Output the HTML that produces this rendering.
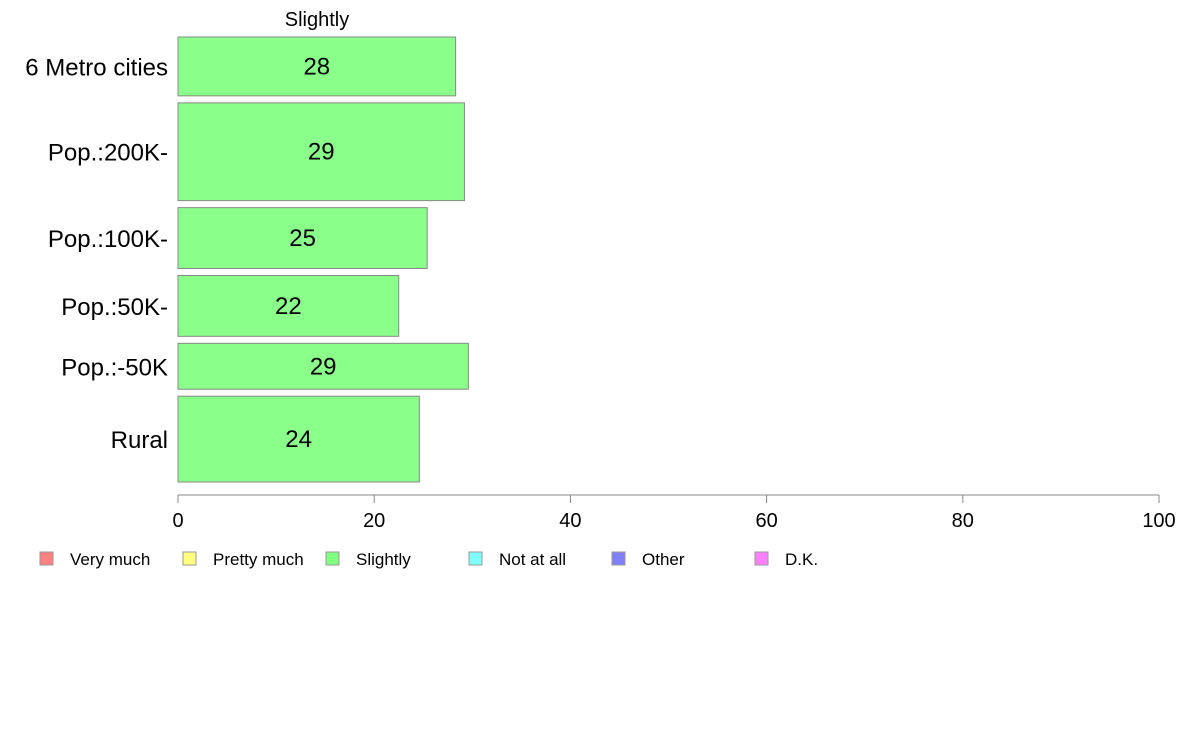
<!DOCTYPE html>
<html><head><meta charset="utf-8"><style>
body{margin:0;background:#fff;font-family:"Liberation Sans",sans-serif;}
svg{display:block}
</style></head><body>
<svg id="chart" width="1188" height="736" font-family="Liberation Sans, sans-serif"></svg>
<script>
const categories=["6 Metro cities","Pop.:200K-","Pop.:100K-","Pop.:50K-","Pop.:-50K","Rural"];
const values=[28.3,29.2,25.4,22.5,29.6,24.6];
const labels=["28","29","25","22","29","24"];
const weights=[59,98,61,61,46,86];
const ticks=[0,20,40,60,80,100];
const legendNames=["Very much","Pretty much","Slightly","Not at all","Other","D.K."];
const legendColors=["#ff8080","#ffff80","#80ff80","#80ffff","#8080ff","#ff80ff"];
const NS="http://www.w3.org/2000/svg";
const svgEl=document.getElementById('chart');
function mk(t,a,p){const e=document.createElementNS(NS,t);for(const k in a)e.setAttribute(k,a[k]);(p||svgEl).appendChild(e);return e;}
const x0=178,x1=1159,yTop=37,yBottom=482,gap=7;
const xs=v=>x0+(x1-x0)*v/100;
const totalW=weights.reduce((a,b)=>a+b,0);
const avail=yBottom-yTop-gap*(categories.length-1);
const t=mk('text',{x:317,y:26,'text-anchor':'middle','font-size':20});t.textContent="Slightly";


let yy=yTop;
categories.forEach((c,i)=>{
  const h=avail*weights[i]/totalW;
  const r=mk('rect',{x:x0,y:yy,width:xs(values[i])-x0,height:h,fill:'#8aff8a',stroke:'#888','stroke-width':1});
  
  
  const v=mk('text',{x:(x0+xs(values[i]))/2,y:yy+h/2+8,'text-anchor':'middle','font-size':24});v.textContent=labels[i];
  
  
  const l=mk('text',{x:168,y:yy+h/2+9,'text-anchor':'end','font-size':24});l.textContent=c;
  
  
  yy+=h+gap;
});
const ax=mk('line',{x1:x0,x2:x1,y1:495,y2:495,stroke:'#888'});


ticks.forEach(v=>{
  const tk=mk('line',{x1:xs(v),x2:xs(v),y1:495,y2:503,stroke:'#888'});
  
  
  const tl=mk('text',{x:xs(v),y:527,'text-anchor':'middle','font-size':20});tl.textContent=v;
  
  
});
legendNames.forEach((n,i)=>{
  const lx=40+i*143;
  const g=mk('g',{});
  
  
  mk('rect',{x:lx,y:552,width:13,height:13,fill:legendColors[i],stroke:'#999'},g);
  const tx=mk('text',{x:lx+30,y:565,'font-size':17},g);tx.textContent=n;
});
</script>
</body></html>
